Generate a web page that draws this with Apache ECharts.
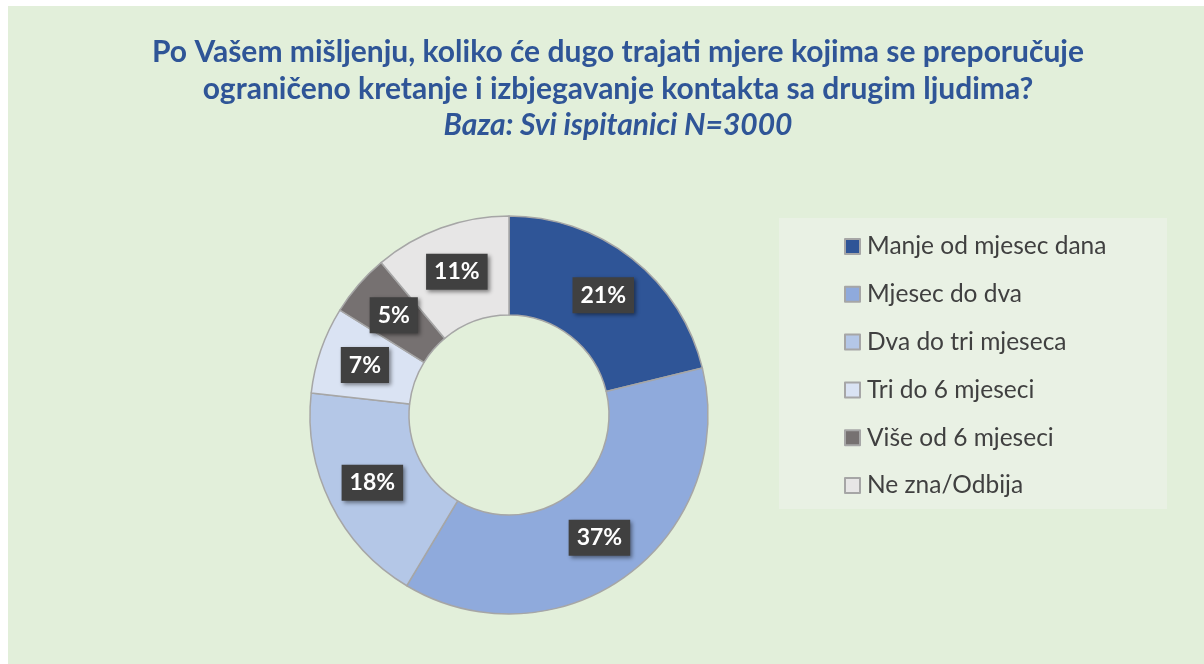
<!DOCTYPE html>
<html>
<head>
<meta charset="utf-8">
<script src="https://cdn.jsdelivr.net/npm/echarts@6/dist/echarts.min.js"></script>
<style>
  html, body { margin: 0; padding: 0; background: #fff; }
  #chart { width: 1204px; height: 664px; }
</style>
</head>
<body>
<div id="chart"></div>
<script>
// podaci
const categories = [
  'Manje od mjesec dana',
  'Mjesec do dva',
  'Dva do tri mjeseca',
  'Tri do 6 mjeseci',
  'Više od 6 mjeseci',
  'Ne zna/Odbija'
]
const percents = [21, 37, 18, 7, 5, 11]
const colors = ['#2F5597', '#8FAADC', '#B4C7E7', '#DAE3F3', '#767171', '#E7E6E6']

const titleText = 'Po Vašem mišljenju, koliko će dugo trajati mjere kojima se preporučuje\nograničeno kretanje i izbjegavanje kontakta sa drugim ljudima?'
const subText = 'Baza: Svi ispitanici N=3000'

const chart = echarts.init(document.getElementById('chart'))

chart.setOption({
  backgroundColor: '#ffffff',
  graphic: [
    {
      type: 'rect',
      z: -10,
      shape: { x: 8, y: 6, width: 1196, height: 658 },
      style: { fill: '#E2EFDA' }
    },
    {
      type: 'rect',
      z: -9,
      shape: { x: 779, y: 218, width: 388, height: 291 },
      style: { fill: '#E9F1E4' }
    }
  ],
  title: {
    text: titleText,
    subtext: subText,
    left: 613,
    textAlign: 'center',
    top: 29,
    itemGap: -1,
    textStyle: {
      fontFamily: 'Lato',
      fontWeight: 'bold',
      fontSize: 30,
      lineHeight: 37,
      color: '#2F5597'
    },
    subtextStyle: {
      fontFamily: 'Lato',
      fontWeight: 'bold',
      fontStyle: 'italic',
      fontSize: 30,
      lineHeight: 37,
      color: '#2F5597'
    }
  },
  legend: {
    orient: 'vertical',
    left: 839,
    top: 229,
    itemWidth: 15,
    itemHeight: 15,
    itemGap: 22.8,
    icon: 'rect',
    textStyle: {
      fontFamily: 'Lato',
      fontSize: 24.5,
      lineHeight: 24,
      color: '#404040',
      padding: [0, 0, 0, 2]
    },
    data: categories
  },
  series: [
    {
      type: 'pie',
      center: [509, 415],
      radius: [100, 199],
      startAngle: 90,
      clockwise: true,
      avoidLabelOverlap: false,
      itemStyle: {
        borderColor: '#A6A6A6',
        borderWidth: 1.5
      },
      label: {
        show: true,
        position: 'inside',
        formatter: p => p.value + '%',
        fontFamily: 'Lato',
        fontWeight: 'bold',
        fontSize: 23,
        color: '#ffffff',
        backgroundColor: '#404040',
        padding: [7, 8, 6, 8],
        shadowColor: 'rgba(0,0,0,0.45)',
        shadowBlur: 4,
        shadowOffsetX: 2,
        shadowOffsetY: 2
      },
      labelLine: { show: false },
      emphasis: { disabled: true },
      data: categories.map((name, i) => ({
        name: name,
        value: percents[i],
        itemStyle: { color: colors[i] }
      }))
    }
  ]
})
</script>
</body>
</html>
